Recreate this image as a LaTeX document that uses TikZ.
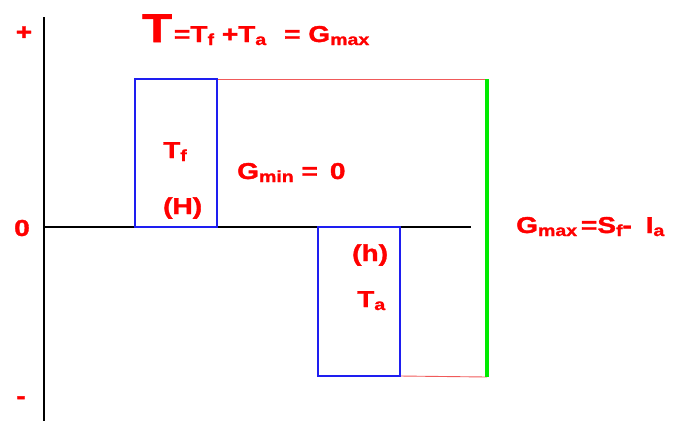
\documentclass[tikz,border=0pt]{standalone}
\usepackage{fontspec}
\setmainfont{Liberation Sans}[FakeStretch=1.22,BoldFeatures={FakeBold=1.5}]
\newcommand\lowsub[1]{\raisebox{-3pt}{\fontsize{16}{16}\selectfont #1}}
\begin{document}
\begin{tikzpicture}[x=1pt,y=-1pt,
  lbl/.style={text=red,font=\bfseries\fontsize{23}{23}\selectfont,inner sep=0pt},
  axis/.style={black,line width=2pt},
  bar/.style={draw={rgb,255:red,30;green,30;blue,240},line width=1.6pt},
  guide/.style={draw={rgb,255:red,240;green,90;blue,90},line width=0.9pt},
  gline/.style={draw={rgb,255:red,0;green,235;blue,0},line width=3.2pt}]
\useasboundingbox (0,0) rectangle (691,424);
% axes
\coordinate (ytop) at (44,17);
\coordinate (ybot) at (44,421);
\coordinate (xl) at (44,227);
\coordinate (xr) at (471,227);
\draw[axis] (ytop) -- (ybot);
\draw[axis] (xl) -- (xr);
% boxes
\coordinate (b1a) at (135,79);
\coordinate (b1b) at (217,227);
\coordinate (b2a) at (318,227);
\coordinate (b2b) at (400,376);
\coordinate (gt) at (487,79);
\coordinate (gb) at (487,377);
\draw[guide] (217,79) -- (gt);
\draw[guide] (b2b) -- (gb);
\draw[bar] (b1a) rectangle (b1b);
\draw[bar] (b2a) rectangle (b2b);
\draw[gline] (gt) -- (gb);
% axis labels
\node[lbl] (plus) at (24,33) {+};
\node[lbl] (zero) at (22,228) {0};
\node[lbl] (minus) at (21,400) {-};
% title
\node[lbl,anchor=base west] (title) at (142,42) {{\fontsize{40}{40}\selectfont T}\hspace{2pt}=T\lowsub{f} +T\lowsub{a}\hspace{18pt}= G\lowsub{max}};
% inner labels
\node[lbl,anchor=base west] (tf) at (163,158) {T\lowsub{f}};
\node[lbl,anchor=base west] (H) at (163,214) {(H)};
\node[lbl,anchor=base west] (gmin) at (237,179) {G\lowsub{min} =\hspace{12pt}0};
\node[lbl,anchor=base west] (h) at (352,261) {(h)};
\node[lbl,anchor=base west] (ta) at (357,307) {T\lowsub{a}};
\node[lbl,anchor=base west] (gmax) at (516,233) {G\lowsub{max}\,=S\lowsub{f}- \hspace{6pt}I\lowsub{a}};
\end{tikzpicture}
\end{document}
